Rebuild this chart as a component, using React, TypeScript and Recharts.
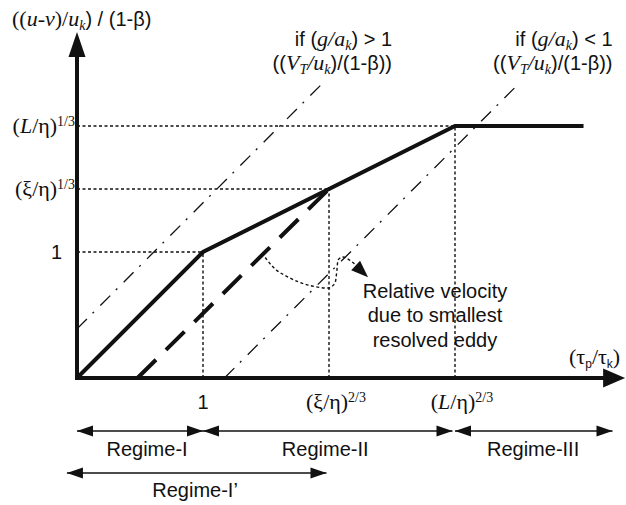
import { ComposedChart, Line, Scatter, XAxis, YAxis } from 'recharts';

// one axis unit = 126px; the plot covers the whole picture so that the regime
// arrows below the x axis can be drawn in the same coordinate frame
const W = 626;
const H = 505;
const X_DOMAIN: [number, number] = [-77 / 126, (W - 77) / 126];
const Y_DOMAIN: [number, number] = [-(H - 378) / 126, 378 / 126];

const INK = '#111';
const SANS = "'Liberation Sans', Arial, sans-serif";
const SERIF = "'Liberation Serif', 'Times New Roman', serif";

// ticks
const xTicks = [1, 2, 3];
const xTickLabels = ['1', '(ξ/η)^2/3', '(L/η)^2/3'];
const yTicks = [1, 1.5, 2];
const yTickLabels = ['1', '(ξ/η)^1/3', '(L/η)^1/3'];

// curves
const relVelocity = [
  { x: 0, y: 0 },
  { x: 1, y: 1 },
  { x: 3, y: 2 },
  { x: 4.02, y: 2 },
];
const eddyVelocity = [
  { x: 0.48, y: 0 },
  { x: 2, y: 1.5 },
];
const settlingHigh = [
  { x: 0, y: 0.39 },
  { x: 1.97, y: 2.36 },
];
const settlingLow = [
  { x: 1.17, y: 0 },
  { x: 3.48, y: 2.31 },
];
const eddyPointer = [
  { x: 1.468, y: 0.992 },
  { x: 1.556, y: 0.881 },
  { x: 1.69, y: 0.794 },
  { x: 1.865, y: 0.73 },
  { x: 1.992, y: 0.714 },
  { x: 2.048, y: 0.754 },
  { x: 2.063, y: 0.857 },
  { x: 2.071, y: 0.937 },
  { x: 2.111, y: 0.96 },
  { x: 2.183, y: 0.921 },
  { x: 2.222, y: 0.889 },
];
const pointerTip = { x: 2.31, y: 0.8 };

// regimes
const regimeNames = ['Regime-I', 'Regime-II', 'Regime-III', 'Regime-I’'];
const regimeFrom = [0, 1, 3, -0.08];
const regimeTo = [1, 2.98, 4.25, 1.98];
const regimeRow = [0, 0, 0, 1];

// layout (axis units)
const ROW_Y = [-0.42, -0.754];
const ROW_LABEL_Y = [-0.619, -0.944];
const REGIME_LABEL_X = [0.556, 1.97, 3.62, 0.937];
const Y_AXIS_TOP = 2.746;
const X_AXIS_END = 4.35;

type Part = { t: string; serif?: boolean; it?: boolean; pos?: 'sup' | 'sub' };

function Rich({ x, y, parts, anchor = 'start', size = 20 }: { x: number; y: number; parts: Part[]; anchor?: string; size?: number }) {
  let cur = 0;
  return (
    <text x={x} y={y} textAnchor={anchor as any} fontSize={size} fill={INK} fontFamily={SANS}>
      {parts.map((p, i) => {
        const target = p.pos === 'sup' ? -7 : p.pos === 'sub' ? 4 : 0;
        const dy = target - cur;
        cur = target;
        const base = p.serif ? size * 1.1 : size;
        return (
          <tspan
            key={i}
            dy={dy}
            fontFamily={p.serif ? SERIF : SANS}
            fontStyle={p.it ? 'italic' : 'normal'}
            fontSize={p.pos ? Math.round(base * 0.62) : base}
          >
            {p.t}
          </tspan>
        );
      })}
    </text>
  );
}

// '(L/η)^1/3' -> serif parts, latin letters italic, exponent raised
function mathParts(label: string): Part[] {
  if (/^\d+$/.test(label)) return [{ t: label }];
  const [main, sup] = label.split('^');
  const parts: Part[] = main
    .split(/([A-Za-z]+)/)
    .filter(Boolean)
    .map((s) => ({ t: s, serif: true, it: /[A-Za-z]/.test(s) }));
  if (sup) parts.push({ t: sup, serif: true, pos: 'sup' });
  return parts;
}

const notes: Record<string, { x: number; y: number; anchor: string; lines: Part[][] }> = {
  yTitle: {
    x: -0.516, y: 2.794, anchor: 'start',
    lines: [[
      { t: '((', serif: true }, { t: 'u-v', serif: true, it: true }, { t: ')/', serif: true },
      { t: 'u', serif: true, it: true }, { t: 'k', serif: true, it: true, pos: 'sub' }, { t: ') / (1-β)' },
    ]],
  },
  highIf: {
    x: 2.5, y: 2.635, anchor: 'end',
    lines: [
      [{ t: 'if (' }, { t: 'g/a', serif: true, it: true }, { t: 'k', serif: true, it: true, pos: 'sub' }, { t: ') > 1' }],
      [{ t: '((' }, { t: 'V', serif: true, it: true }, { t: 'T', serif: true, it: true, pos: 'sub' },
        { t: '/u', serif: true, it: true }, { t: 'k', serif: true, it: true, pos: 'sub' }, { t: ')/(1-β))' }],
    ],
  },
  lowIf: {
    x: 4.25, y: 2.635, anchor: 'end',
    lines: [
      [{ t: 'if (' }, { t: 'g/a', serif: true, it: true }, { t: 'k', serif: true, it: true, pos: 'sub' }, { t: ') < 1' }],
      [{ t: '((' }, { t: 'V', serif: true, it: true }, { t: 'T', serif: true, it: true, pos: 'sub' },
        { t: '/u', serif: true, it: true }, { t: 'k', serif: true, it: true, pos: 'sub' }, { t: ')/(1-β))' }],
    ],
  },
  xTitle: {
    x: 3.905, y: 0.111, anchor: 'start',
    lines: [[
      { t: '(', serif: true }, { t: 'τ', serif: true }, { t: 'p', pos: 'sub' },
      { t: '/τ', serif: true }, { t: 'k', pos: 'sub' }, { t: ')', serif: true },
    ]],
  },
  eddyNote: {
    x: 2.841, y: 0.635, anchor: 'middle',
    lines: [[{ t: 'Relative velocity' }], [{ t: 'due to smallest' }], [{ t: 'resolved eddy' }]],
  },
};

const noteData = Object.keys(notes).map((id) => ({ x: notes[id].x, y: notes[id].y, id }));
const xTickData = xTicks.map((v, i) => ({ x: v, y: 0, label: xTickLabels[i] }));
const yTickData = yTicks.map((v, i) => ({ x: 0, y: v, label: yTickLabels[i] }));
const regimeLabelData = regimeNames.map((n, i) => ({ x: REGIME_LABEL_X[i], y: ROW_LABEL_Y[regimeRow[i]], label: n }));

const heads = [
  { x: 0, y: Y_AXIS_TOP, angle: -90, len: 25, half: 8.5 },
  { x: X_AXIS_END, y: 0, angle: 0, len: 22, half: 9.5 },
  { x: pointerTip.x, y: pointerTip.y, angle: 43, len: 17, half: 6.5 },
  ...regimeNames.flatMap((_, i) => [
    { x: regimeFrom[i], y: ROW_Y[regimeRow[i]], angle: 180, len: 16, half: 5.5 },
    { x: regimeTo[i], y: ROW_Y[regimeRow[i]], angle: 0, len: 16, half: 5.5 },
  ]),
];

function Arrowhead({ cx, cy, payload }: any) {
  const a = (payload.angle * Math.PI) / 180;
  const bx = cx - payload.len * Math.cos(a);
  const by = cy - payload.len * Math.sin(a);
  const px = -Math.sin(a) * payload.half;
  const py = Math.cos(a) * payload.half;
  return <polygon points={`${cx},${cy} ${bx + px},${by + py} ${bx - px},${by - py}`} fill={INK} />;
}

function NoteShape({ cx, cy, payload }: any) {
  const n = notes[payload.id];
  return (
    <g>
      {n.lines.map((parts, i) => (
        <Rich key={i} x={cx} y={cy + i * 24.5} parts={parts} anchor={n.anchor} />
      ))}
    </g>
  );
}

function XTickShape({ cx, cy, payload }: any) {
  const parts = mathParts(payload.label);
  const hasSup = parts.some((p) => p.pos === 'sup');
  return <Rich x={cx + (hasSup ? 7 : 0)} y={cy + 31} parts={parts} anchor="middle" />;
}

function YTickShape({ cx, cy, payload }: any) {
  const parts = mathParts(payload.label);
  const plain = parts.length === 1 && !parts[0].serif;
  return <Rich x={cx - (plain ? 15 : 2)} y={cy + 7} parts={parts} anchor="end" />;
}

function RegimeLabel({ cx, cy, payload }: any) {
  return <Rich x={cx} y={cy} parts={[{ t: payload.label }]} anchor="middle" />;
}

export default function App() {
  const guidesH = yTicks.map((v, i) => [{ x: 0, y: v }, { x: xTicks[i], y: v }]);
  const guidesV = xTicks.map((v, i) => [{ x: v, y: 0 }, { x: v, y: yTicks[i] }]);
  const axes = [{ x: 0, y: Y_AXIS_TOP - 0.15 }, { x: 0, y: 0 }, { x: X_AXIS_END - 0.12, y: 0 }];

  return (
    <div style={{ width: W, height: H, background: '#fff' }}>
      <style>{'body{margin:0}'}</style>
      <ComposedChart width={W} height={H} margin={{ top: 0, right: 0, bottom: 0, left: 0 }}>
        <XAxis type="number" dataKey="x" domain={X_DOMAIN} allowDataOverflow hide />
        <YAxis type="number" dataKey="y" domain={Y_DOMAIN} allowDataOverflow hide />

        {[...guidesH, ...guidesV].map((seg, i) => (
          <Line key={`g${i}`} data={seg} dataKey="y" type="linear" stroke={INK} strokeWidth={1.4}
                strokeDasharray="3 2.5" dot={false} activeDot={false} isAnimationActive={false} />
        ))}

        <Line data={settlingHigh} dataKey="y" type="linear" stroke={INK} strokeWidth={1.3}
              strokeDasharray="14 8 2 9" dot={false} activeDot={false} isAnimationActive={false} />
        <Line data={settlingLow} dataKey="y" type="linear" stroke={INK} strokeWidth={1.3}
              strokeDasharray="14 8 2 9" dot={false} activeDot={false} isAnimationActive={false} />
        <Line data={eddyVelocity} dataKey="y" type="linear" stroke={INK} strokeWidth={4}
              strokeDasharray="26 14" dot={false} activeDot={false} isAnimationActive={false} />
        <Line data={relVelocity} dataKey="y" type="linear" stroke={INK} strokeWidth={4}
              dot={false} activeDot={false} isAnimationActive={false} />
        <Line data={eddyPointer} dataKey="y" type="monotone" stroke={INK} strokeWidth={1.4}
              strokeDasharray="3 2.5" dot={false} activeDot={false} isAnimationActive={false} />
        <Line data={axes} dataKey="y" type="linear" stroke={INK} strokeWidth={4}
              dot={false} activeDot={false} isAnimationActive={false} />

        {regimeNames.map((n, i) => (
          <Line key={n} data={[{ x: regimeFrom[i], y: ROW_Y[regimeRow[i]] }, { x: regimeTo[i], y: ROW_Y[regimeRow[i]] }]}
                dataKey="y" type="linear" stroke={INK} strokeWidth={1.5}
                dot={false} activeDot={false} isAnimationActive={false} />
        ))}

        <Scatter data={heads} shape={Arrowhead} isAnimationActive={false} />
        <Scatter data={xTickData} shape={XTickShape} isAnimationActive={false} />
        <Scatter data={yTickData} shape={YTickShape} isAnimationActive={false} />
        <Scatter data={regimeLabelData} shape={RegimeLabel} isAnimationActive={false} />
        <Scatter data={noteData} shape={NoteShape} isAnimationActive={false} />
      </ComposedChart>
    </div>
  );
}
